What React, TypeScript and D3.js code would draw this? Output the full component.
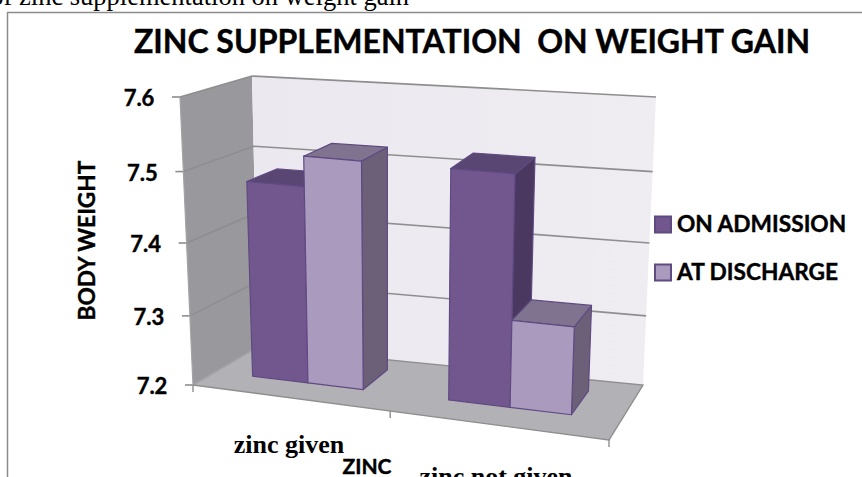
import * as d3 from "d3";

const CATEGORIES = ["zinc given", "zinc not given"];
const SERIES = ["ON ADMISSION", "AT DISCHARGE"];
const ON_ADMISSION = [7.478, 7.52];
const AT_DISCHARGE = [7.52, 7.322];
const Y_TICKS = [7.2, 7.3, 7.4, 7.5, 7.6];

const WIDTH = 862;
const HEIGHT = 477;
const SANS = "Lato, Carlito, sans-serif";
const SERIF = "'Liberation Serif', serif";
// Lato bold is a little lighter than the original face
const HEAVY = { stroke: "#000", strokeWidth: 0.4 };

// box corners as they sit on the page [x, y]
const BASE = { fl: [193, 385], bl: [258, 347], br: [643, 385], fr: [609, 440] };
const TOP = { fl: [180, 97], bl: [252, 76], br: [656, 97], fr: [621, 135] };

// slight perspective warp along each axis
const uScale = d3.scaleLinear().domain([0, 0.5, 1]).range([0, 0.474, 1]);
const vScale = d3.scaleLinear().domain([0, 1]).range([0, 1]);
const hScale = d3.scaleLinear().domain(Y_TICKS).range([0, 0.24, 0.493, 0.741, 1]);

const lerp = (a: number, b: number, t: number) => a + (b - a) * t;

function project(u: number, v: number, val: number): [number, number] {
  const uu = uScale(u);
  const vv = vScale(v);
  const h = hScale(val);
  const plane = (c: typeof BASE, i: 0 | 1) =>
    lerp(lerp(c.fl[i], c.fr[i], uu), lerp(c.bl[i], c.br[i], uu), vv);
  return [
    lerp(plane(BASE, 0), plane(TOP, 0), h),
    lerp(plane(BASE, 1), plane(TOP, 1), h),
  ];
}

const path = d3.line().curve(d3.curveLinearClosed);

const COLORS = [
  { front: "#72578f", top: "#5a4672", side: "#4a3860" },
  { front: "#aa9abd", top: "#80738f", side: "#6b6078" },
];
const BAR_STROKE = "#5f4a82";
const GRID = "#8f8e8f";

const catBand = d3.scaleBand<string>().domain(CATEGORIES).range([-0.01, 0.99]);
const serBand = d3
  .scaleBand<string>()
  .domain(SERIES)
  .range([0, catBand.bandwidth()])
  .paddingInner(0)
  .paddingOuter(0.736);

const V_FRONT = 0.35;
const V_BACK = 0.8;
const Y_MIN = Y_TICKS[0];
const Y_MAX = Y_TICKS[Y_TICKS.length - 1];

export default function App() {
  const bars = CATEGORIES.flatMap((cat, ci) =>
    SERIES.map((ser, si) => {
      const val = (si === 0 ? ON_ADMISSION : AT_DISCHARGE)[ci];
      const u0 = (catBand(cat) ?? 0) + (serBand(ser) ?? 0);
      return { key: `${cat}-${ser}`, u0, u1: u0 + serBand.bandwidth(), val, color: COLORS[si] };
    })
  );

  return (
    <svg
      width={WIDTH}
      height={HEIGHT}
      style={{ position: "absolute", left: 0, top: 0, background: "#fff" }}
    >
      <defs>
        <linearGradient id="wallFade" x1="0" x2="1" y1="0" y2="0">
          <stop offset="0" stopColor="#ebe9ef" />
          <stop offset="1" stopColor="#efedf2" />
        </linearGradient>
      </defs>

      {/* caption of the page around the figure, cut by the crop */}
      <text x={-9.7} y={5} fontFamily={SERIF} fontSize={26.5} fill="#000">
        of zinc supplementation on weight gain
      </text>

      {/* frame */}
      <path d={`M7.5,${HEIGHT}V12.5H${WIDTH}`} fill="none" stroke="#8c8c8c" strokeWidth={1.5} />

      <text x={472} y={53} textAnchor="middle" fontFamily={SANS} fontWeight={700} fontSize={32} fill="#000" style={{ whiteSpace: "pre" }} {...HEAVY}>
        ZINC SUPPLEMENTATION  ON WEIGHT GAIN
      </text>

      {/* walls and floor */}
      <path
        d={path([project(0, 0, Y_MIN), project(0, 1, Y_MIN), project(0, 1, Y_MAX), project(0, 0, Y_MAX)])!}
        fill="#99989c"
      />
      <path
        d={path([project(0, 1, Y_MIN), project(1, 1, Y_MIN), project(1, 1, Y_MAX), project(0, 1, Y_MAX)])!}
        fill="url(#wallFade)"
      />
      <path
        d={path([project(0, 0, Y_MIN), project(1, 0, Y_MIN), project(1, 1, Y_MIN), project(0, 1, Y_MIN)])!}
        fill="#b2b1b5"
      />

      {/* gridlines */}
      {Y_TICKS.map((t) => {
        const a = project(0, 0, t);
        const b = project(0, 1, t);
        const c = project(1, 1, t);
        const line = t === Y_MIN ? [a, b] : [a, b, c];
        return (
          <g key={t}>
            <path d={d3.line()(line)!} fill="none" stroke={t === Y_MIN ? "#a3a2a6" : GRID} strokeWidth={1.6} />
            <line x1={a[0] - 8} x2={a[0]} y1={a[1]} y2={a[1]} stroke={GRID} strokeWidth={1.6} />
            <text
              x={a[0] - 41}
              y={a[1] + 9}
              textAnchor="middle"
              fontFamily={SANS}
              fontWeight={700}
              fontSize={22}
              fill="#000"
              {...HEAVY}
            >
              {t.toFixed(1)}
            </text>
          </g>
        );
      })}

      {/* front and side edges of the floor, with category ticks */}
      <path
        d={d3.line()([project(0, 0, Y_MIN), project(0, 0, Y_MAX)])!}
        fill="none"
        stroke="#a3a2a6"
        strokeWidth={1.2}
      />
      <path
        d={d3.line()([project(0, 1, Y_MIN), project(1, 1, Y_MIN), project(1, 0, Y_MIN), project(0, 0, Y_MIN)])!}
        fill="none"
        stroke={GRID}
        strokeWidth={1.4}
      />
      {[0, 0.5, 1].map((u) => {
        const p = project(u, 0, Y_MIN);
        return <line key={u} x1={p[0]} x2={p[0]} y1={p[1]} y2={p[1] + 7} stroke={GRID} strokeWidth={1.4} />;
      })}

      {/* bars */}
      {bars.map((b) => {
        const flb = project(b.u0, V_FRONT, Y_MIN);
        const frb = project(b.u1, V_FRONT, Y_MIN);
        const brb = project(b.u1, V_BACK, Y_MIN);
        const flt = project(b.u0, V_FRONT, b.val);
        const frt = project(b.u1, V_FRONT, b.val);
        const brt = project(b.u1, V_BACK, b.val);
        const blt = project(b.u0, V_BACK, b.val);
        return (
          <g key={b.key} stroke={BAR_STROKE} strokeWidth={1.2} strokeLinejoin="round">
            <path d={path([frb, brb, brt, frt])!} fill={b.color.side} />
            <path d={path([flt, frt, brt, blt])!} fill={b.color.top} />
            <path d={path([flb, frb, frt, flt])!} fill={b.color.front} />
          </g>
        );
      })}

      {/* axis titles */}
      <text
        transform="translate(95,240.5) rotate(-90)"
        textAnchor="middle"
        fontFamily={SANS}
        fontWeight={700}
        fontSize={22.7}
        fill="#000"
        {...HEAVY}
      >
        BODY WEIGHT
      </text>
      <text x={289} y={453} textAnchor="middle" fontFamily={SERIF} fontWeight={700} fontSize={26} fill="#000">
        {CATEGORIES[0]}
      </text>
      <text x={496} y={485} textAnchor="middle" fontFamily={SERIF} fontWeight={700} fontSize={26} fill="#000">
        {CATEGORIES[1]}
      </text>
      <text x={367} y={474} textAnchor="middle" fontFamily={SANS} fontWeight={700} fontSize={21} fill="#000" {...HEAVY}>
        ZINC
      </text>

      {/* legend */}
      {SERIES.map((s, i) => {
        const y = 216 + i * 48;
        return (
          <g key={s}>
            <rect x={655} y={y + 0.5} width={16} height={16} fill={COLORS[i].front} stroke={BAR_STROKE} strokeWidth={2} />
            <text x={677} y={y + 16} fontFamily={SANS} fontWeight={700} fontSize={22.7} fill="#000" {...HEAVY}>
              {s}
            </text>
          </g>
        );
      })}
    </svg>
  );
}
